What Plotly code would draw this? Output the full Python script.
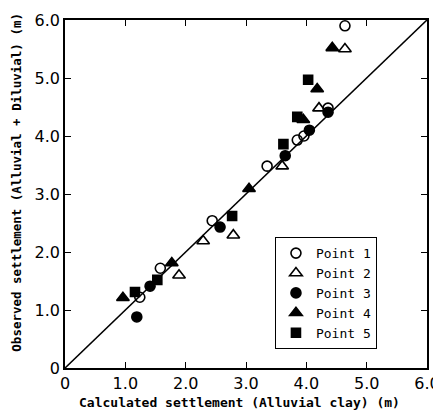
import plotly.graph_objects as go

# ---- data ----
p1_calc = [4.64, 4.36, 3.96, 3.85, 3.35, 2.44, 1.58, 1.24]
p1_obs = [5.90, 4.48, 4.00, 3.93, 3.48, 2.54, 1.72, 1.22]

p2_calc = [4.64, 4.21, 3.60, 2.79, 2.29, 1.89]
p2_obs = [5.50, 4.48, 3.48, 2.29, 2.19, 1.60]

p3_calc = [4.36, 4.05, 3.65, 2.57, 1.41, 1.19]
p3_obs = [4.41, 4.10, 3.66, 2.43, 1.41, 0.88]

p4_calc = [4.43, 4.18, 3.95, 3.05, 1.77, 0.96]
p4_obs = [5.52, 4.81, 4.28, 3.09, 1.81, 1.21]

p5_calc = [4.03, 3.85, 3.62, 2.77, 1.53, 1.16]
p5_obs = [4.97, 4.33, 3.86, 2.62, 1.52, 1.31]

line_vals = [0, 6]

tick_vals = [0, 1, 2, 3, 4, 5, 6]
tick_text = ["0", "1.0", "2.0", "3.0", "4.0", "5.0", "6.0"]

series = [
    ("Point 1", p1_calc, p1_obs, "circle-open", 10),
    ("Point 2", p2_calc, p2_obs, "triangle-up-open", 11),
    ("Point 3", p3_calc, p3_obs, "circle", 10),
    ("Point 4", p4_calc, p4_obs, "triangle-up", 11),
    ("Point 5", p5_calc, p5_obs, "square", 9),
]

fig = go.Figure()
fig.add_trace(go.Scatter(x=line_vals, y=line_vals, mode="lines",
                         line=dict(color="black", width=1.6),
                         showlegend=False, hoverinfo="skip"))
for name, xs, ys, sym, sz in series:
    fig.add_trace(go.Scatter(
        x=xs, y=ys, mode="markers", name=name,
        marker=dict(symbol=sym, size=sz, color="black",
                    line=dict(color="black", width=1.6)),
    ))

tick_font = dict(family="DejaVu Sans", size=16, color="black")
axis_common = dict(
    range=[0, 6], tickvals=tick_vals, ticktext=tick_text,
    showgrid=False, zeroline=False, showline=True, linecolor="black",
    linewidth=1.6, mirror="ticks", ticks="inside", ticklen=6,
    tickcolor="black", tickwidth=1.3, tickfont=tick_font,
    automargin=False,
)

# the page body adds an 8px offset, so the figure is 8px smaller
fig.update_layout(
    width=433, height=407,
    margin=dict(l=57, r=14, t=12, b=47),
    paper_bgcolor="white", plot_bgcolor="white",
    xaxis=axis_common,
    yaxis=axis_common,
    legend=dict(
        x=0.58, y=0.376, xanchor="left", yanchor="top",
        bordercolor="black", borderwidth=1, bgcolor="white",
        entrywidth=72,
        font=dict(family="DejaVu Sans Mono", size=13, color="black"),
    ),
    annotations=[
        dict(text="Calculated settlement (Alluvial clay) (m)",
             xref="paper", yref="paper", x=0.483, y=-0.10,
             xanchor="center", yanchor="middle", showarrow=False,
             font=dict(family="DejaVu Sans Mono", size=13, color="black",
                       weight="bold")),
        dict(text="Observed settlement (Alluvial + Diluvial) (m)",
             xref="paper", yref="paper", x=-0.133, y=0.535,
             xanchor="center", yanchor="middle", showarrow=False,
             textangle=-90,
             font=dict(family="DejaVu Sans Mono", size=12.5, color="black",
                       weight="bold")),
    ],
)

fig.write_html("out.html")
